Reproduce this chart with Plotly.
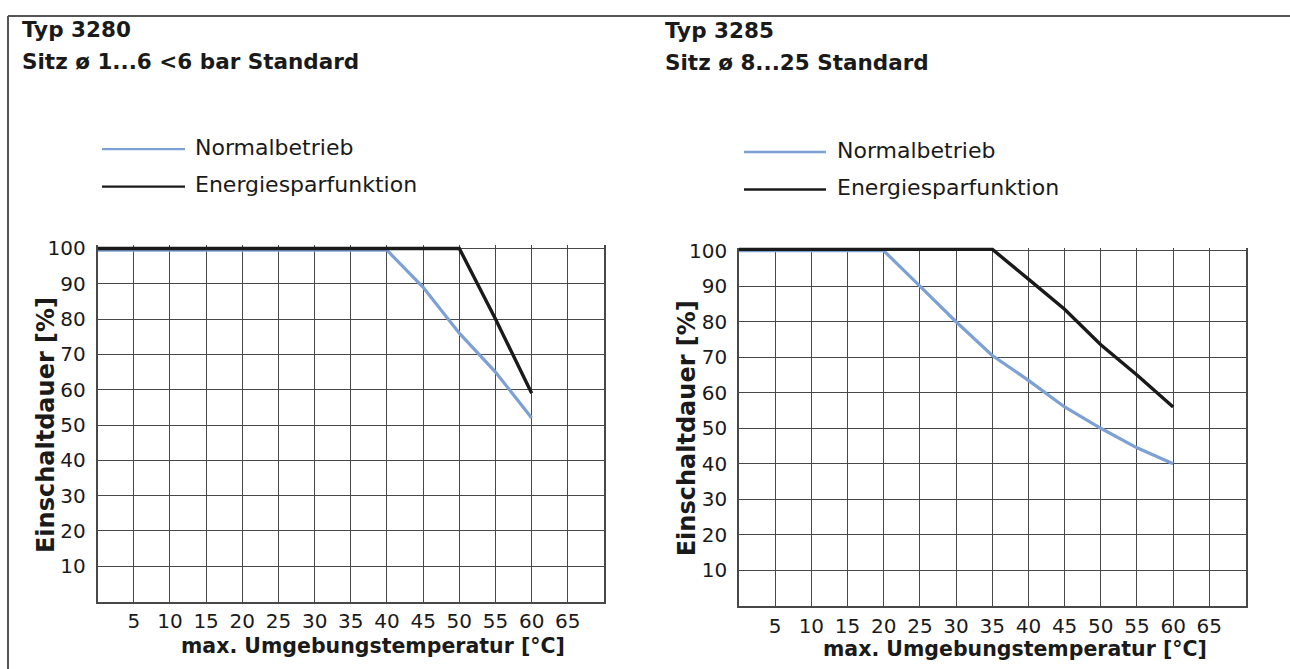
import plotly.graph_objects as go

W, H = 1290, 669

# ---------------- data ----------------
series_names = ["Normalbetrieb", "Energiesparfunktion"]
panel_titles = [["Typ 3280", "Sitz ø 1...6 <6 bar Standard"],
                ["Typ 3285", "Sitz ø 8...25 Standard"]]
x_title = "max. Umgebungstemperatur [°C]"
y_title = "Einschaltdauer [%]"

x_ticks = [5, 10, 15, 20, 25, 30, 35, 40, 45, 50, 55, 60, 65]
x_ticktext = [str(v) for v in x_ticks]
y_ticks = [10, 20, 30, 40, 50, 60, 70, 80, 90, 100]
y_ticktext = [str(v) for v in y_ticks]

# Typ 3280
left_normal_x = [0, 40, 45, 50, 55, 60]
left_normal_y = [99.5, 99.5, 89, 76, 65, 52]
left_energy_x = [0, 50, 55, 60]
left_energy_y = [100, 100, 80, 59]

# Typ 3285
right_normal_x = [0, 20, 25, 30, 35, 40, 45, 50, 55, 60]
right_normal_y = [100, 100, 90, 80, 70.5, 63.5, 56, 50, 44.5, 40]
right_energy_x = [0, 35, 40, 45, 50, 55, 60]
right_energy_y = [100.4, 100.4, 92, 83.5, 73.5, 65, 56]

# ---------------- style ----------------
BLUE = "#7da1d5"
BLACK = "#1a1a1a"
GRID = "#484848"
TXT = "#1a1a1a"
FONT = "DejaVu Sans"


def px(x):
    return x / W


def py(y):
    return 1 - y / H


fig = go.Figure()

panels = [
    dict(xa="x", ya="y", xd=(97.6, 604.0), yd=(600.7, 242.7),
         normal=(left_normal_x, left_normal_y), energy=(left_energy_x, left_energy_y),
         title_x=20, title_y=(21, 53), leg_x=(102, 185, 193), leg_y=(142, 180),
         ytitle_x=46, xtitle_x=373, xtitle_y=646),
    dict(xa="x2", ya="y2", xd=(739.0, 1245.5), yd=(605.0, 245.0),
         normal=(right_normal_x, right_normal_y), energy=(right_energy_x, right_energy_y),
         title_x=663, title_y=(22, 54), leg_x=(744, 826, 835), leg_y=(145, 183),
         ytitle_x=687, xtitle_x=1015, xtitle_y=649),
]

YMAX = 100.9
annotations = []
shapes = []

for i, p in enumerate(panels):
    nx, ny = p["normal"]
    ex, ey = p["energy"]
    fig.add_trace(go.Scatter(x=nx, y=ny, mode="lines", name=series_names[0],
                             line=dict(color=BLUE, width=3.2), showlegend=False,
                             xaxis=p["xa"], yaxis=p["ya"]))
    fig.add_trace(go.Scatter(x=ex, y=ey, mode="lines", name=series_names[1],
                             line=dict(color=BLACK, width=3.4), showlegend=False,
                             xaxis=p["xa"], yaxis=p["ya"]))

    y0_px, y100_px = p["yd"]
    ytop_px = y0_px - (y0_px - y100_px) * YMAX / 100.0
    sfx = "" if i == 0 else "2"
    fig.update_layout(**{
        "xaxis" + sfx: dict(domain=[px(p["xd"][0]), px(p["xd"][1])], range=[0, 70],
                           tickvals=x_ticks, ticktext=x_ticktext, showgrid=True,
                           gridcolor=GRID, gridwidth=1.3, showline=True, linecolor=GRID,
                           linewidth=1.6, zeroline=False, ticks="", ticklabelstandoff=1,
                           tickfont=dict(family=FONT, size=20, color=TXT),
                           anchor="y" + sfx, fixedrange=True),
        "yaxis" + sfx: dict(domain=[py(y0_px), py(ytop_px)], range=[0, YMAX],
                           tickvals=y_ticks, ticktext=y_ticktext, showgrid=True,
                           gridcolor=GRID, gridwidth=1.3, showline=True, mirror=True,
                           linecolor=GRID, linewidth=1.6, zeroline=False, ticks="",
                           ticklabelstandoff=6,
                           tickfont=dict(family=FONT, size=20, color=TXT),
                           anchor="x" + sfx, fixedrange=True),
    })

    # panel titles
    for t, yy in zip(panel_titles[i], p["title_y"]):
        annotations.append(dict(text="<b>%s</b>" % t, x=px(p["title_x"]), y=py(yy),
                                xref="paper", yref="paper", xanchor="left", yanchor="middle",
                                showarrow=False, font=dict(family=FONT, size=21.5, color=TXT)))
    # legend
    lx0, lx1, tx = p["leg_x"]
    for name, col, ly in zip(series_names, [BLUE, BLACK], p["leg_y"]):
        shapes.append(dict(type="line", xref="paper", yref="paper", x0=px(lx0), x1=px(lx1),
                           y0=py(ly), y1=py(ly), line=dict(color=col, width=2.4)))
        annotations.append(dict(text=name, x=px(tx), y=py(ly - 2), xref="paper", yref="paper",
                                xanchor="left", yanchor="middle", showarrow=False,
                                font=dict(family=FONT, size=22, color=TXT)))
    # axis titles
    annotations.append(dict(text="<b>%s</b>" % x_title, x=px(p["xtitle_x"]), y=py(p["xtitle_y"]),
                            xref="paper", yref="paper", xanchor="center", yanchor="middle",
                            showarrow=False, font=dict(family=FONT, size=20.5, color=TXT)))
    annotations.append(dict(text="<b>%s</b>" % y_title, x=px(p["ytitle_x"]),
                            y=py((y0_px + y100_px) / 2), textangle=-90,
                            xref="paper", yref="paper", xanchor="center", yanchor="middle",
                            showarrow=False, font=dict(family=FONT, size=24, color=TXT)))

# outer frame (top and left edge)
shapes.append(dict(type="line", xref="paper", yref="paper", x0=px(8), x1=1.0,
                   y0=py(7), y1=py(7), line=dict(color="#555555", width=2)))
shapes.append(dict(type="line", xref="paper", yref="paper", x0=px(8), x1=px(8),
                   y0=py(7), y1=0.0, line=dict(color="#555555", width=2)))

fig.update_layout(width=W, height=H, margin=dict(l=0, r=0, t=0, b=0),
                  paper_bgcolor="white", plot_bgcolor="white",
                  annotations=annotations, shapes=shapes, showlegend=False)

fig.write_html("out.html", config={"displayModeBar": False},
               post_script="document.body.style.margin='0';document.body.style.overflow='hidden';")
